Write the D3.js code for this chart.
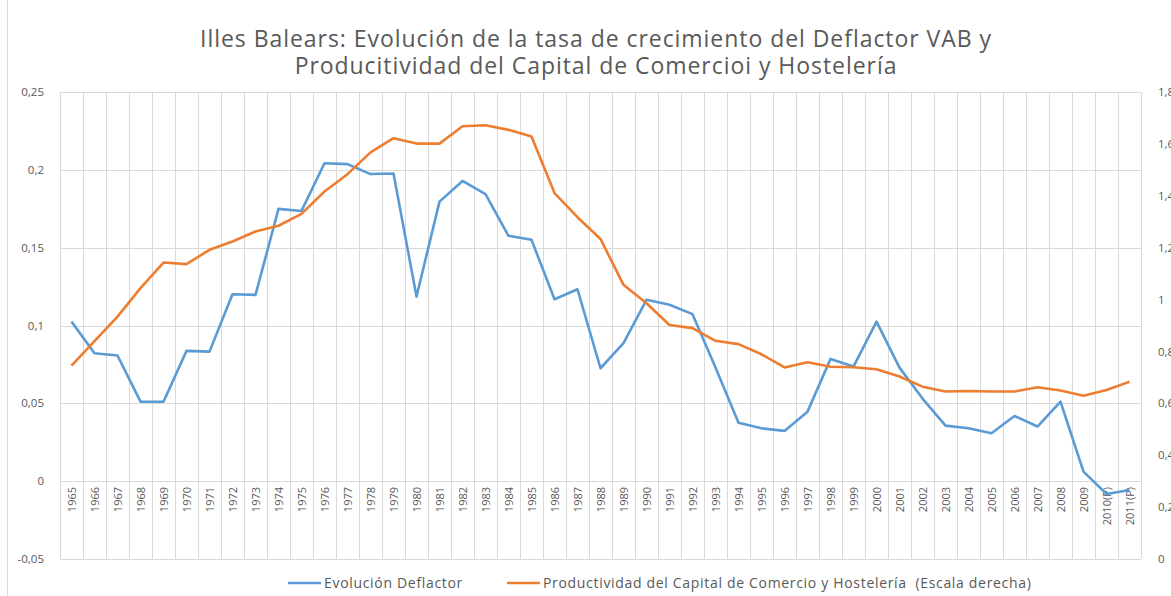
<!DOCTYPE html>
<html>
<head>
<meta charset="utf-8">
<script src="https://cdn.jsdelivr.net/npm/d3@7"></script>
<style>
  body { margin: 0; background: #fff; }
  svg { display: block; font-family: 'Open Sans', sans-serif; }
</style>
</head>
<body>
<div id="chart"></div>
<script>
const years = ['1965','1966','1967','1968','1969','1970','1971','1972','1973','1974',
  '1975','1976','1977','1978','1979','1980','1981','1982','1983','1984','1985','1986',
  '1987','1988','1989','1990','1991','1992','1993','1994','1995','1996','1997','1998',
  '1999','2000','2001','2002','2003','2004','2005','2006','2007','2008','2009',
  '2010(P)','2011(P)'];

// Evolución Deflactor (left axis)
const deflactor = [0.1025, 0.0822, 0.0807, 0.051, 0.051, 0.0837, 0.0832, 0.1201, 0.1197, 0.175,
  0.1737, 0.2044, 0.2038, 0.1974, 0.1978, 0.1186, 0.1797, 0.193, 0.1845, 0.1577, 0.1551, 0.1169,
  0.1233, 0.0725, 0.0886, 0.1165, 0.1133, 0.1073, 0.073, 0.0375, 0.0339, 0.0322, 0.0446, 0.0785,
  0.0736, 0.1025, 0.0729, 0.053, 0.0356, 0.0339, 0.0307, 0.0418, 0.035, 0.051, 0.006,
  -0.0084, -0.0058];

// Productividad del Capital (right axis)
const productividad = [0.745, 0.84, 0.934, 1.044, 1.143, 1.137, 1.192, 1.224, 1.263, 1.285,
  1.331, 1.417, 1.484, 1.568, 1.623, 1.602, 1.602, 1.669, 1.673, 1.655, 1.629, 1.411,
  1.318, 1.234, 1.057, 0.986, 0.902, 0.89, 0.841, 0.828, 0.789, 0.738, 0.758, 0.741,
  0.739, 0.731, 0.703, 0.664, 0.645, 0.647, 0.645, 0.645, 0.662, 0.649, 0.629,
  0.651, 0.683];

const leftTicks = [-0.05, 0, 0.05, 0.1, 0.15, 0.2, 0.25];
const rightTicks = [0, 0.2, 0.4, 0.6, 0.8, 1, 1.2, 1.4, 1.6, 1.8];

const width = 1171, height = 596;
const plot = { left: 60, right: 1141, top: 92.3, bottom: 558.7 };
const textColor = '#595959';

const svg = d3.select('#chart').append('svg')
  .attr('width', width)
  .attr('height', height);

// chart area border
svg.append('rect')
  .attr('x', 7.5).attr('y', -2)
  .attr('width', 1200).attr('height', 610)
  .attr('fill', 'none')
  .attr('stroke', '#d9d9d9');

const x = d3.scaleBand().domain(years).range([plot.left, plot.right]);
const yL = d3.scaleLinear().domain([-0.05, 0.25]).range([plot.bottom, plot.top]);
const yR = d3.scaleLinear().domain([0, 1.8]).range([plot.bottom, plot.top]);

const fmt = function(v) { return String(+v.toFixed(2)).replace('.', ','); };

// horizontal gridlines
svg.append('g')
  .selectAll('line')
  .data(leftTicks)
  .enter().append('line')
  .attr('x1', plot.left).attr('x2', plot.right)
  .attr('y1', function(d) { return Math.round(yL(d)) + 0.5; })
  .attr('y2', function(d) { return Math.round(yL(d)) + 0.5; })
  .attr('stroke', '#d9d9d9');

// vertical gridlines (category boundaries)
const bounds = years.map(function(d) { return x(d); }).concat([plot.right]);
svg.append('g')
  .selectAll('line')
  .data(bounds)
  .enter().append('line')
  .attr('x1', function(d) { return Math.round(d) + 0.5; })
  .attr('x2', function(d) { return Math.round(d) + 0.5; })
  .attr('y1', plot.top).attr('y2', plot.bottom)
  .attr('stroke', '#d9d9d9');

// left axis
const axL = svg.append('g')
  .attr('transform', 'translate(' + (plot.left - 13) + ',0)')
  .call(d3.axisLeft(yL).tickValues(leftTicks).tickSize(0).tickFormat(fmt));
axL.select('.domain').remove();
axL.selectAll('text')
  .attr('fill', textColor)
  .attr('font-size', 11.5)
  .attr('font-family', "'Open Sans', sans-serif");

// right axis (labels run past the picture edge, as in the original)
const axR = svg.append('g')
  .attr('transform', 'translate(' + (plot.right + 14) + ',0)')
  .call(d3.axisRight(yR).tickValues(rightTicks).tickSize(0).tickFormat(fmt));
axR.select('.domain').remove();
axR.selectAll('text')
  .attr('fill', textColor)
  .attr('font-size', 11.5)
  .attr('font-family', "'Open Sans', sans-serif");

// category labels, rotated, just under the zero line
svg.append('g')
  .selectAll('text')
  .data(years)
  .enter().append('text')
  .attr('transform', function(d) {
    return 'translate(' + (x(d) + x.bandwidth() / 2 + 4) + ',' + (yL(0) + 6) + ') rotate(-90)';
  })
  .attr('text-anchor', 'end')
  .attr('font-size', 11)
  .attr('fill', textColor)
  .text(function(d) { return d; });

// lines
const lineL = d3.line()
  .x(function(d, i) { return x(years[i]) + x.bandwidth() / 2; })
  .y(function(d) { return yL(d); });
const lineR = d3.line()
  .x(function(d, i) { return x(years[i]) + x.bandwidth() / 2; })
  .y(function(d) { return yR(d); });

svg.append('path')
  .datum(deflactor)
  .attr('d', lineL)
  .attr('fill', 'none')
  .attr('stroke', '#5b9bd5')
  .attr('stroke-width', 2.6)
  .attr('stroke-linejoin', 'round');

svg.append('path')
  .datum(productividad)
  .attr('d', lineR)
  .attr('fill', 'none')
  .attr('stroke', '#ed7d31')
  .attr('stroke-width', 2.6)
  .attr('stroke-linejoin', 'round');

// title
const title = svg.append('text')
  .attr('text-anchor', 'middle')
  .attr('font-size', 23)
  .attr('letter-spacing', 0.95)
  .attr('fill', textColor);
title.append('tspan').attr('x', 596).attr('y', 47)
  .text('Illes Balears: Evolución de la tasa de crecimiento del Deflactor VAB y');
title.append('tspan').attr('x', 596).attr('y', 73.5)
  .text('Producitividad del Capital de Comercioi y Hostelería');

// legend
const legend = [
  { label: 'Evolución Deflactor', color: '#5b9bd5', x: 288 },
  { label: 'Productividad del Capital de Comercio y Hostelería  (Escala derecha)', color: '#ed7d31', x: 507 }
];
const lg = svg.append('g').selectAll('g')
  .data(legend)
  .enter().append('g')
  .attr('transform', function(d) { return 'translate(' + d.x + ',583)'; });
lg.append('line')
  .attr('x1', 0).attr('x2', 33)
  .attr('stroke', function(d) { return d.color; })
  .attr('stroke-width', 2.6);
lg.append('text')
  .attr('x', 36).attr('dy', '0.35em')
  .attr('font-size', 14)
  .attr('letter-spacing', 0.68)
  .attr('fill', textColor)
  .style('white-space', 'pre')
  .text(function(d) { return d.label; });
</script>
</body>
</html>
